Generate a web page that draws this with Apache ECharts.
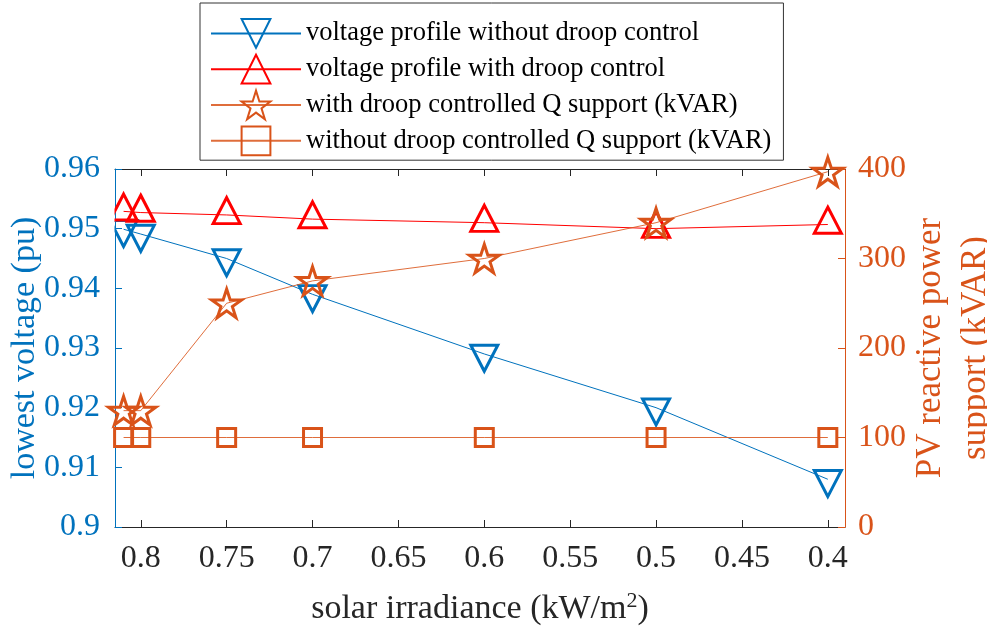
<!DOCTYPE html>
<html>
<head>
<meta charset="utf-8">
<script src="https://cdn.jsdelivr.net/npm/echarts@6/dist/echarts.min.js"></script>
<style>
  html, body { margin: 0; padding: 0; background: #fff; }
  #chart { width: 987px; height: 638px; }
</style>
</head>
<body>
<div id="chart"></div>
<script>
// Solar irradiance levels (kW/m^2)
const irradiance = [0.81, 0.8, 0.75, 0.7, 0.6, 0.5, 0.4];
// Lowest bus voltage (pu)
const voltageNoDroop = [0.9499, 0.9491, 0.945, 0.939, 0.929, 0.920, 0.908];
const voltageDroop = [0.9529, 0.9527, 0.9523, 0.9516, 0.951, 0.950, 0.9507];
// PV reactive power support (kVAR)
const qDroop = [130, 130, 250, 275, 300, 340, 397];
const qNoDroop = [100, 100, 100, 100, 100, 100, 100];
// Axis ticks
const xTicks = [0.8, 0.75, 0.7, 0.65, 0.6, 0.55, 0.5, 0.45, 0.4];

const BLUE = '#0072BD', RED = '#FF0000', ORANGE = '#D95319', DARK = '#262626';
const FONT = '"Liberation Serif", "Times New Roman", serif';
const STAR = 'path://M0,-1L0.2245,-0.309L0.951,-0.309L0.363,0.118L0.588,0.809L0,0.382L-0.588,0.809L-0.363,0.118L-0.951,-0.309L-0.2245,-0.309Z';

const pairs = (xs, ys) => xs.map((x, i) => [x, ys[i]]);

function markerStyle(color) {
  return {
    color: 'rgba(255,255,255,0)',
    borderColor: color,
    borderWidth: 3,
    borderJoin: 'miter',
    borderMiterLimit: 10
  };
}

const xCommon = {
  type: 'value',
  min: 0.39,
  max: 0.815,
  inverse: true,
  splitLine: { show: false },
  axisLine: { show: true, onZero: false, lineStyle: { color: DARK, width: 1 } },
  axisTick: { show: true, inside: true, length: 7, customValues: xTicks, lineStyle: { color: DARK } }
};

const chart = echarts.init(document.getElementById('chart'), null, { renderer: 'canvas' });
chart.setOption({
  backgroundColor: '#fff',
  animation: false,
  textStyle: { fontFamily: FONT },
  grid: { left: 115, right: 142, top: 169, bottom: 111, containLabel: false, outerBoundsMode: 'none' },
  // markers are clipped at the left frame of the axes box
  graphic: [{
    type: 'rect',
    left: 101,
    top: 172,
    shape: { width: 13.5, height: 90 },
    style: { fill: '#fff' },
    silent: true,
    z: 50
  }],
  legend: {
    orient: 'vertical',
    left: 200,
    top: 3,
    padding: [15, 12, 4, 10],
    itemGap: 5,
    itemWidth: 90,
    itemHeight: 36,
    borderColor: '#333',
    borderWidth: 1,
    backgroundColor: '#fff',
    textStyle: { fontFamily: FONT, fontSize: 26.5, color: '#000' },
    data: [
      'voltage profile without droop control',
      'voltage profile with droop control',
      'with droop controlled Q support (kVAR)',
      'without droop controlled Q support (kVAR)'
    ]
  },
  xAxis: [
    Object.assign({}, xCommon, {
      position: 'bottom',
      name: 'solar irradiance (kW/m{sup|2})',
      nameLocation: 'middle',
      nameGap: 63,
      nameMoveOverlap: false,
      nameTextStyle: {
        fontFamily: FONT, fontSize: 34, color: DARK,
        rich: { sup: { fontFamily: FONT, fontSize: 22, color: DARK, verticalAlign: 'top', padding: [0, 0, 16, 0] } }
      },
      axisLabel: {
        show: true, customValues: xTicks, margin: 16,
        fontFamily: FONT, fontSize: 32, color: DARK,
        formatter: v => String(+v.toFixed(2))
      }
    }),
    Object.assign({}, xCommon, {
      position: 'top',
      axisLabel: { show: false }
    })
  ],
  yAxis: [
    {
      type: 'value',
      position: 'left',
      min: 0.9,
      max: 0.96,
      interval: 0.01,
      name: 'lowest voltage (pu)',
      nameLocation: 'middle',
      nameRotate: 90,
      nameGap: 73,
      nameMoveOverlap: false,
      nameTextStyle: { fontFamily: FONT, fontSize: 34, color: BLUE },
      splitLine: { show: false },
      axisLine: { show: true, lineStyle: { color: BLUE, width: 1 } },
      axisTick: { show: true, inside: true, length: 7, lineStyle: { color: BLUE } },
      axisLabel: {
        margin: 15, fontFamily: FONT, fontSize: 32, color: BLUE,
        formatter: v => String(+v.toFixed(2))
      }
    },
    {
      type: 'value',
      position: 'right',
      min: 0,
      max: 400,
      interval: 100,
      name: 'PV reactive power\nsupport (kVAR)',
      nameLocation: 'middle',
      nameRotate: 90,
      nameGap: 63,
      nameMoveOverlap: false,
      nameTextStyle: { fontFamily: FONT, fontSize: 35, color: ORANGE, lineHeight: 45, align: 'center' },
      splitLine: { show: false },
      axisLine: { show: true, lineStyle: { color: ORANGE, width: 1 } },
      axisTick: { show: true, inside: true, length: 7, lineStyle: { color: ORANGE } },
      axisLabel: { margin: 13, fontFamily: FONT, fontSize: 32, color: ORANGE }
    }
  ],
  series: [
    {
      name: 'voltage profile without droop control',
      type: 'line',
      xAxisIndex: 0,
      yAxisIndex: 0,
      data: pairs(irradiance, voltageNoDroop),
      symbol: 'triangle',
      symbolRotate: 180,
      symbolSize: [27, 26],
      symbolOffset: [0, 4.3],
      lineStyle: { color: BLUE, width: 1 },
      itemStyle: markerStyle(BLUE),
      emphasis: { disabled: true },
      z: 2
    },
    {
      name: 'voltage profile with droop control',
      type: 'line',
      xAxisIndex: 0,
      yAxisIndex: 0,
      data: pairs(irradiance, voltageDroop),
      symbol: 'triangle',
      symbolSize: [27, 26],
      symbolOffset: [0, -4.3],
      lineStyle: { color: RED, width: 1 },
      itemStyle: markerStyle(RED),
      emphasis: { disabled: true },
      z: 3
    },
    {
      name: 'with droop controlled Q support (kVAR)',
      type: 'line',
      xAxisIndex: 0,
      yAxisIndex: 1,
      data: pairs(irradiance, qDroop),
      symbol: STAR,
      symbolKeepAspect: true,
      symbolSize: 30,
      lineStyle: { color: ORANGE, width: 1, opacity: 0.85 },
      itemStyle: markerStyle(ORANGE),
      emphasis: { disabled: true },
      z: 4
    },
    {
      name: 'without droop controlled Q support (kVAR)',
      type: 'line',
      xAxisIndex: 0,
      yAxisIndex: 1,
      data: pairs(irradiance, qNoDroop),
      symbol: 'rect',
      symbolSize: 18,
      lineStyle: { color: ORANGE, width: 1, opacity: 0.85 },
      itemStyle: markerStyle(ORANGE),
      emphasis: { disabled: true },
      z: 4
    }
  ]
});
</script>
</body>
</html>
